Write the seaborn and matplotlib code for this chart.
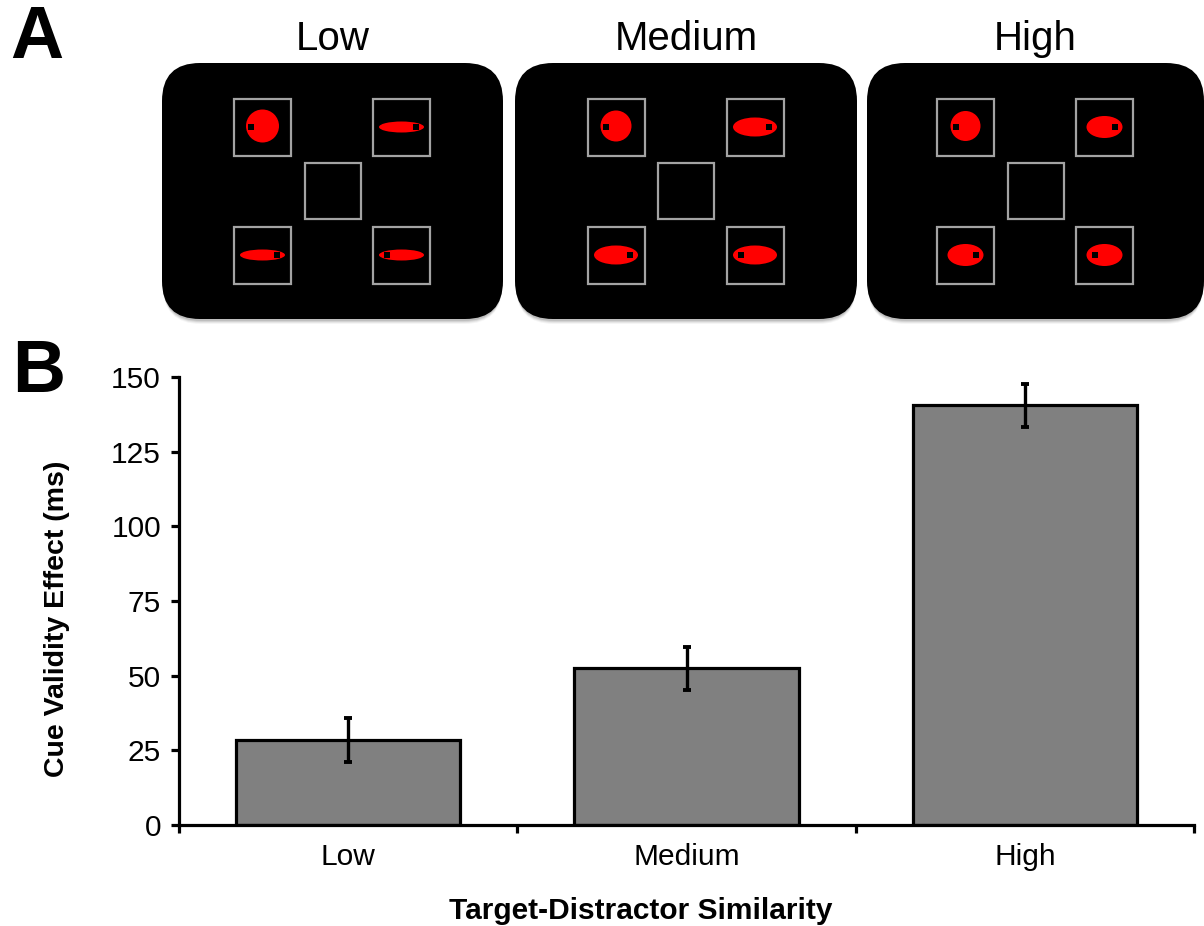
import numpy as np
import pandas as pd
import matplotlib
matplotlib.use("Agg")
import matplotlib.pyplot as plt
from matplotlib.patches import FancyBboxPatch, Rectangle, Ellipse
from matplotlib.ticker import FixedLocator
import seaborn as sns

# ---- data -------------------------------------------------------------
similarity = ["Low", "Medium", "High"]
cue_validity_ms = [28.5, 52.5, 140.5]
cue_validity_se = [7.4, 7.2, 7.1]
y_ticks = [0, 25, 50, 75, 100, 125, 150]

# stimulus geometry for the example displays (pixels)
target_diam = [33, 31, 30]
distractor_w = [45, 44, 36]
distractor_h = [11, 19, 22]

# ---- style -------------------------------------------------------------
sns.set_theme(style="white")
plt.rcParams["font.family"] = ["Liberation Sans", "DejaVu Sans"]

W, H = 1204, 926
fig = plt.figure(figsize=(W / 100, H / 100), dpi=100)

# ---- panel A: example search displays ---------------------------------
topH = 335
axA = fig.add_axes([0, (H - topH) / H, 1, topH / H])
axA.set_xlim(0, W)
axA.set_ylim(topH, 0)
axA.axis("off")

panel_left = [162, 515, 867]
panel_width = [341, 342, 337]
panel_top, panel_bottom = 63, 319
box_gray = "#a3a3a3"

for i, name in enumerate(similarity):
    x0 = panel_left[i]
    w = panel_width[i]
    h = panel_bottom - panel_top
    # soft drop shadow
    for k, a in zip([5, 4, 3, 2], [0.08, 0.12, 0.18, 0.25]):
        axA.add_patch(FancyBboxPatch((x0 + 1, panel_top + k), w - 2, h,
                                     boxstyle="round,pad=0,rounding_size=38",
                                     fc="#808080", ec="none", alpha=a, zorder=1))
    axA.add_patch(FancyBboxPatch((x0, panel_top), w, h,
                                 boxstyle="round,pad=0,rounding_size=38",
                                 fc="black", ec="none", zorder=2))
    cx = x0 + w / 2
    cy = (panel_top + panel_bottom) / 2
    axA.text(cx, 50, name, ha="center", va="baseline", fontsize=29, color="black")

    # central fixation box
    axA.add_patch(Rectangle((cx - 28, cy - 28), 56, 56, fill=False,
                            ec=box_gray, lw=1.6, zorder=3))
    # four placeholder boxes and their items
    locs = [(-70, -64, "circle", -1), (69, -64, "ell", 1),
            (-70, 64, "ell", 1), (69, 64, "ell", -1)]
    for dx, dy, kind, side in locs:
        bx, by = cx + dx, cy + dy
        axA.add_patch(Rectangle((bx - 28.5, by - 28.5), 57, 57, fill=False,
                                ec=box_gray, lw=1.6, zorder=3))
        if kind == "circle":
            d = target_diam[i]
            axA.add_patch(Ellipse((bx, by - 1), d, d, fc="#ff0000", ec="none", zorder=4))
            nx = bx + side * (d / 2 - 5)
        else:
            ew, eh = distractor_w[i], distractor_h[i]
            axA.add_patch(Ellipse((bx, by), ew, eh, fc="#ff0000", ec="none", zorder=4))
            nx = bx + side * (ew / 2 - 8)
        axA.add_patch(Rectangle((nx - 3, by - 3), 6, 5.5, fc="black",
                                ec="none", zorder=5))

axA.text(10, 58, "A", ha="left", va="baseline", fontsize=53,
         fontweight="bold", color="black")

# ---- panel B: bar chart ----------------------------------------------
ax_l, ax_r, ax_t, ax_b = 179, 1194, 377, 825
ax = fig.add_axes([ax_l / W, (H - ax_b) / H, (ax_r - ax_l) / W, (ax_b - ax_t) / H])

df = pd.DataFrame({"similarity": similarity, "effect": cue_validity_ms})
sns.barplot(data=df, x="similarity", y="effect", order=similarity,
            color="#808080", saturation=1, edgecolor="black", linewidth=2.3,
            width=0.663, errorbar=None, ax=ax, zorder=2)
ax.errorbar(np.arange(len(similarity)), cue_validity_ms, yerr=cue_validity_se,
            fmt="none", ecolor="black", elinewidth=2.4, capsize=3.2,
            capthick=2.8, zorder=3)

ax.set_xlim(-0.5, len(similarity) - 0.5)
ax.set_ylim(0, 150)
ax.set_yticks(y_ticks)
ax.set_yticklabels([str(t) for t in y_ticks])

for s in ["top", "right"]:
    ax.spines[s].set_visible(False)
for s in ["left", "bottom"]:
    ax.spines[s].set_linewidth(2.3)
    ax.spines[s].set_color("black")

ax.tick_params(axis="y", direction="out", length=6, width=2.3,
               labelsize=21.5, pad=7, colors="black", left=True)
ax.tick_params(axis="x", which="major", length=0, labelsize=21.5, pad=13,
               colors="black")
ax.xaxis.set_minor_locator(FixedLocator(np.arange(len(similarity) + 1) - 0.5))
ax.tick_params(axis="x", which="minor", direction="out", length=6,
               width=2.3, color="black", bottom=True)

ax.set_xlabel("Target-Distractor Similarity", fontsize=21.5,
              fontweight="bold", color="black")
ax.set_ylabel("Cue Validity Effect (ms)", fontsize=20.5,
              fontweight="bold", color="black")
ax.xaxis.set_label_coords(0.455, -0.160)
ax.yaxis.set_label_coords(-0.107, 0.46)
ax.set_facecolor("white")
ax.grid(False)

fig.text(12 / W, (H - 392) / H, "B", ha="left", va="baseline", fontsize=53,
         fontweight="bold", color="black")

fig.savefig("out.png", dpi=100, facecolor="white")
